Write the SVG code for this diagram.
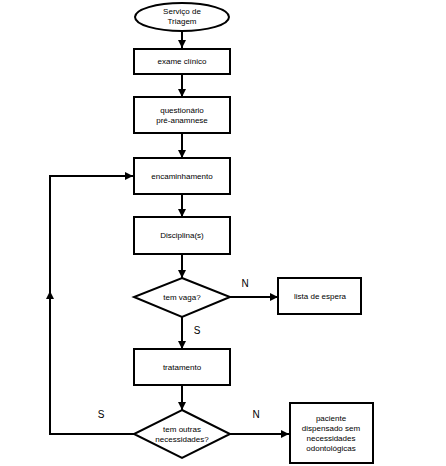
<svg xmlns="http://www.w3.org/2000/svg" width="446" height="466" viewBox="0 0 446 466">
<defs>
<marker id="ah" viewBox="0 0 10 10" refX="10" refY="5" markerWidth="8" markerHeight="8" markerUnits="userSpaceOnUse" orient="auto">
<path d="M0,0 L10,5 L0,10 z" fill="#000"/>
</marker>
<style>
.s{fill:#fff;stroke:#000;stroke-width:2}
.t{font-family:"Liberation Sans",Arial,sans-serif;font-size:8px;fill:#000;text-anchor:middle}
.l{font-family:"Liberation Sans",Arial,sans-serif;font-size:10px;fill:#000;text-anchor:middle}
.c{fill:none;stroke:#000;stroke-width:2}
</style>
</defs>
<rect width="446" height="466" fill="#fff"/>
<g id="connectors">
<path class="c" d="M182,31 V48" marker-end="url(#ah)"/>
<path class="c" d="M182,74 V97" marker-end="url(#ah)"/>
<path class="c" d="M182,133 V158" marker-end="url(#ah)"/>
<path class="c" d="M182,194 V217" marker-end="url(#ah)"/>
<path class="c" d="M182,254 V278" marker-end="url(#ah)"/>
<path class="c" d="M230,297 H278" marker-end="url(#ah)"/>
<path class="c" d="M182,317 V349" marker-end="url(#ah)"/>
<path class="c" d="M182,385 V410" marker-end="url(#ah)"/>
<path class="c" d="M230,434 H289" marker-end="url(#ah)"/>
<path class="c" d="M134,434 H50 V176 H133" marker-end="url(#ah)"/>
<path class="c" d="M50,310 V291" marker-end="url(#ah)"/>
<text class="l" x="245" y="287">N</text>
<text class="l" x="197" y="334">S</text>
<text class="l" x="101" y="418">S</text>
<text class="l" x="256" y="418">N</text>
</g>
<g id="n1"><ellipse class="s" cx="182" cy="17" rx="47" ry="14"/><text class="t" x="182" y="14">Serviço de</text><text class="t" x="182" y="24">Triagem</text></g>
<g id="n2"><rect class="s" x="134" y="49" width="96" height="25"/><text class="t" x="182" y="64">exame clínico</text></g>
<g id="n3"><rect class="s" x="134" y="97" width="96" height="36"/><text class="t" x="182" y="113">questionário</text><text class="t" x="182" y="123">pré-anamnese</text></g>
<g id="n4"><rect class="s" x="134" y="158" width="96" height="36"/><text class="t" x="182" y="179">encaminhamento</text></g>
<g id="n5"><rect class="s" x="134" y="217" width="96" height="37"/><text class="t" x="182" y="238">Disciplina(s)</text></g>
<g id="n6"><path class="s" d="M182,278 L230,297 L182,317 L134,297 Z"/><text class="t" x="182" y="300">tem vaga?</text></g>
<g id="n7"><rect class="s" x="278" y="278" width="83" height="36"/><text class="t" x="320" y="299">lista de espera</text></g>
<g id="n8"><rect class="s" x="134" y="349" width="96" height="36"/><text class="t" x="182" y="370">tratamento</text></g>
<g id="n9"><path class="s" d="M182,410 L230,434 L182,458 L134,434 Z"/><text class="t" x="182" y="432">tem outras</text><text class="t" x="182" y="442">necessidades?</text></g>
<g id="n10"><rect class="s" x="290" y="403" width="83" height="60"/><text class="t" x="331" y="421">paciente</text><text class="t" x="331" y="431">dispensado sem</text><text class="t" x="331" y="441">necessidades</text><text class="t" x="331" y="451">odontológicas</text></g>
</svg>
